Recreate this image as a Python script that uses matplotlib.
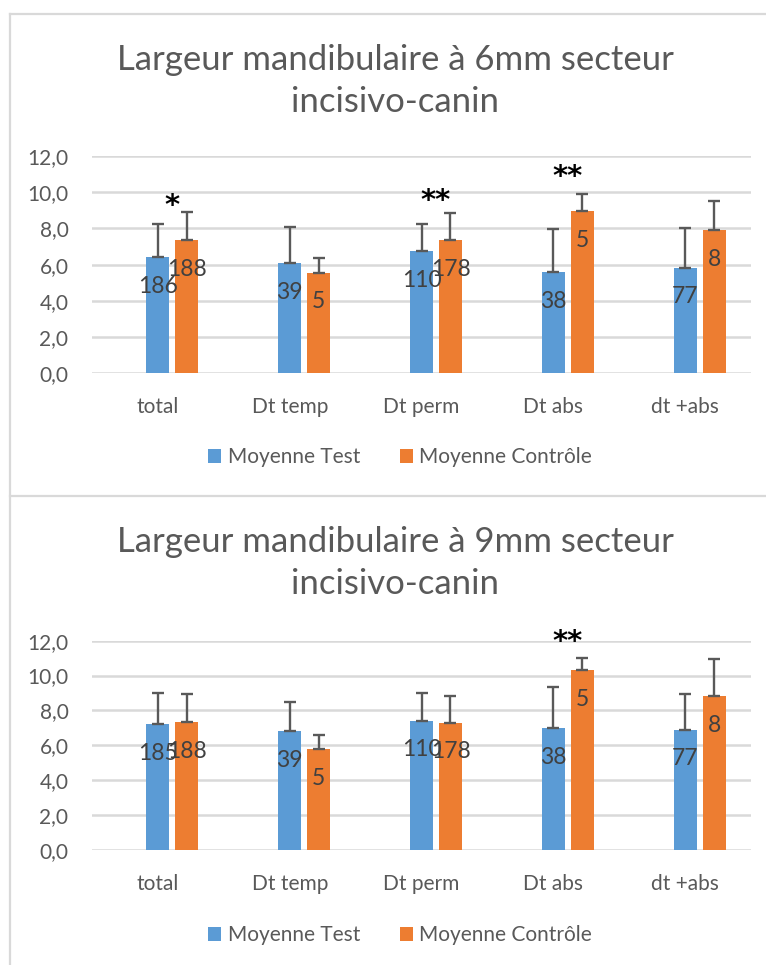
import numpy as np
import matplotlib
matplotlib.use("Agg")
import matplotlib.pyplot as plt
from matplotlib.lines import Line2D

plt.rcParams["font.family"] = ["Lato", "DejaVu Sans"]

# ================= DATA =================

categories = ["total", "Dt temp", "Dt perm", "Dt abs", "dt +abs"]

# chart 1 : 6mm
test_6   = [6.41, 6.09, 6.76, 5.58, 5.83]
test_6_e = [1.84, 1.98, 1.47, 2.38, 2.20]
ctrl_6   = [7.36, 5.56, 7.36, 8.95, 7.90]
ctrl_6_e = [1.53, 0.83, 1.51, 0.96, 1.64]
n_test_6 = ["186", "39", "110", "38", "77"]
n_ctrl_6 = ["188", "5", "178", "5", "8"]
sig_6    = ["*", "", "**", "**", ""]
sig_6_y  = [9.57, 0, 9.85, 11.18, 0]

# chart 2 : 9mm
test_9   = [7.22, 6.82, 7.41, 7.00, 6.90]
test_9_e = [1.80, 1.68, 1.59, 2.36, 2.04]
ctrl_9   = [7.34, 5.79, 7.30, 10.32, 8.81]
ctrl_9_e = [1.59, 0.79, 1.53, 0.71, 2.16]
n_test_9 = ["185", "39", "110", "38", "77"]
n_ctrl_9 = ["188", "5", "178", "5", "8"]
sig_9    = ["", "", "", "**", ""]
sig_9_y  = [0, 0, 0, 12.27, 0]

BLUE   = "#5B9BD5"
ORANGE = "#ED7D31"
GREY   = "#595959"
GRID   = "#D9D9D9"

W, H = 766, 965
fig = plt.figure(figsize=(W / 100, H / 100), dpi=100)


def fx(px):
    return px / W


def fy(py):
    return 1 - py / H


def draw_chart(title, y_title, ax_box, y_leg, test, test_e, ctrl, ctrl_e,
               n_test, n_ctrl, sig, sig_y):
    l, t, r, b = ax_box
    ax = fig.add_axes([fx(l), fy(b), fx(r) - fx(l), fy(t) - fy(b)])
    x = np.arange(len(categories))
    bw, step = 0.175, 0.22
    zeros = np.zeros(len(x))

    # Excel layout: Test bar on the category centre, Contrôle one slot to the right
    ax.bar(x, test, bw, color=BLUE, label="Moyenne Test", zorder=3)
    ax.bar(x + step, ctrl, bw, color=ORANGE, label="Moyenne Contrôle", zorder=3)
    ax.errorbar(x, test, yerr=[zeros, test_e], fmt="none",
                ecolor=GREY, elinewidth=1.7, capsize=4, capthick=1.7, zorder=4)
    ax.errorbar(x + step, ctrl, yerr=[zeros, ctrl_e], fmt="none",
                ecolor=GREY, elinewidth=1.7, capsize=4, capthick=1.7, zorder=4)

    # n labels, just under the top of each bar
    for xs, vals, labs in [(x, test, n_test), (x + step, ctrl, n_ctrl)]:
        for xi, v, s in zip(xs, vals, labs):
            ax.annotate(s, (xi, v), xytext=(0, -21), textcoords="offset points",
                        ha="center", va="center", fontsize=16.5, color="#404040",
                        zorder=5)

    # significance stars
    for xi, s, sy in zip(x + step / 2, sig, sig_y):
        if s:
            ax.text(xi, sy - 0.35, s, ha="center", va="center",
                    fontsize=21, color="black", clip_on=False, zorder=5,
                    family=["DejaVu Sans"], fontweight="bold")

    ax.set_xlim(-0.5, len(x) - 0.5)
    ax.set_ylim(0, 12)
    ticks = np.arange(0, 13, 2)
    ax.set_yticks(ticks)
    ax.set_yticklabels([f"{v:.1f}".replace(".", ",") for v in ticks],
                       fontsize=15, color=GREY)
    ax.set_xticks(x)
    ax.set_xticklabels(categories, fontsize=15, color=GREY)
    ax.tick_params(axis="both", length=0)
    ax.tick_params(axis="y", pad=17)
    ax.tick_params(axis="x", pad=17)
    ax.grid(True, axis="y", color=GRID, lw=1.8, zorder=0)
    for sp in ax.spines.values():
        sp.set_visible(False)
    ax.set_axisbelow(True)

    fig.text(fx(395), fy(y_title), title, ha="center", va="center",
             fontsize=25, color=GREY, linespacing=1.42)

    h, lb = ax.get_legend_handles_labels()
    fig.legend(h, lb, loc="center", bbox_to_anchor=(fx(400), fy(y_leg)),
               ncol=2, frameon=False, fontsize=15, labelcolor=GREY,
               handlelength=0.65, handleheight=0.65, handletextpad=0.3,
               columnspacing=1.9)
    return ax


draw_chart("Largeur mandibulaire à 6mm secteur\nincisivo-canin", 81,
           (92, 156, 751, 373.3), 457,
           test_6, test_6_e, ctrl_6, ctrl_6_e, n_test_6, n_ctrl_6, sig_6, sig_6_y)

draw_chart("Largeur mandibulaire à 9mm secteur\nincisivo-canin", 563,
           (92, 640.7, 751, 850), 935,
           test_9, test_9_e, ctrl_9, ctrl_9_e, n_test_9, n_ctrl_9, sig_9, sig_9_y)

# chart frames
frame = "#D9D9D9"
fig.add_artist(Line2D([fx(10), 1], [fy(14), fy(14)], color=frame, lw=1.6))
fig.add_artist(Line2D([fx(10), 1], [fy(496), fy(496)], color=frame, lw=1.6))
fig.add_artist(Line2D([fx(10), fx(10)], [fy(14), 0], color=frame, lw=1.6))

plt.savefig("out.png", dpi=100)
